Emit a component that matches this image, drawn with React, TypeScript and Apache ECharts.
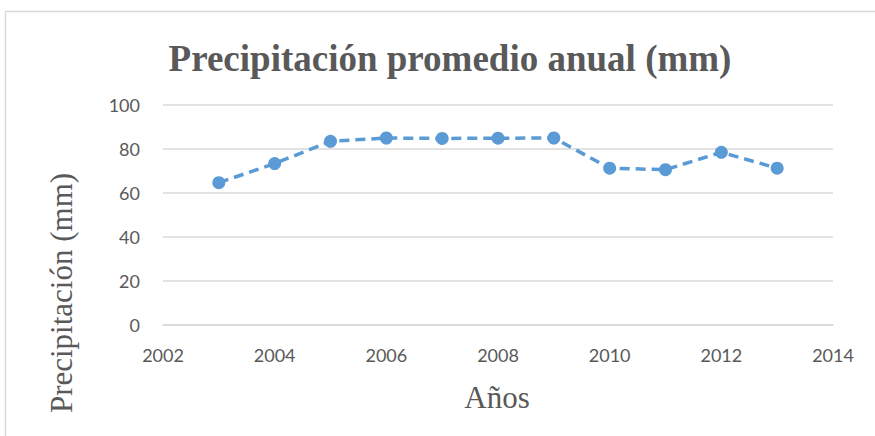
import React, { useEffect, useRef } from "react";
import * as echarts from "echarts";

const years = [2003, 2004, 2005, 2006, 2007, 2008, 2009, 2010, 2011, 2012, 2013];
const precip = [64.7, 73.4, 83.5, 85.0, 84.8, 84.9, 85.0, 71.3, 70.6, 78.5, 71.3];
const titleText = "Precipitación promedio anual (mm)";
const xName = "Años";
const yName = "Precipitación (mm)";

export default function App() {
  const ref = useRef<HTMLDivElement>(null);
  useEffect(() => {
    if (!ref.current) return;
    const chart = echarts.init(ref.current, null, { renderer: "svg" });
    const tickFont = { color: "#595959", fontSize: 18, fontFamily: "Lato, 'Open Sans', sans-serif" };
    chart.setOption({
      animation: false,
      backgroundColor: "#ffffff",
      grid: { left: 163, right: 42, top: 105, bottom: 111 },
      xAxis: {
        type: "value",
        min: 2002,
        max: 2014,
        interval: 2,
        axisLine: { show: true, lineStyle: { color: "#d9d9d9", width: 1.5 } },
        axisTick: { show: false },
        splitLine: { show: false },
        axisLabel: { ...tickFont, margin: 21, formatter: (v: number) => String(v) },
      },
      yAxis: {
        type: "value",
        min: 0,
        max: 100,
        interval: 20,
        axisLine: { show: false },
        axisTick: { show: false },
        splitLine: { show: true, lineStyle: { color: "#d9d9d9", width: 1.5 } },
        axisLabel: { ...tickFont, margin: 23 },
      },
      series: [
        {
          type: "line",
          data: years.map((y, i) => [y, precip[i]]),
          symbol: "circle",
          symbolSize: 13,
          itemStyle: { color: "#5b9bd5" },
          lineStyle: { color: "#5b9bd5", width: 3.5, type: [10, 6] },
        },
      ],
      graphic: [
        {
          type: "rect",
          shape: { x: 5.5, y: 11.5, width: 1000, height: 1000 },
          style: { fill: "none", stroke: "#d9d9d9", lineWidth: 1.5 },
          silent: true,
          z: -1,
        },
        {
          type: "text",
          x: 450,
          y: 58,
          style: {
            text: titleText,
            fill: "#595959",
            font: "bold 37px 'Liberation Serif', 'Times New Roman', serif",
            textAlign: "center",
            textVerticalAlign: "middle",
          },
        },
        {
          type: "text",
          x: 497,
          y: 397,
          style: {
            text: xName,
            fill: "#595959",
            font: "31px 'Liberation Serif', 'Times New Roman', serif",
            textAlign: "center",
            textVerticalAlign: "middle",
          },
        },
        {
          type: "text",
          x: 61,
          y: 293,
          rotation: Math.PI / 2,
          style: {
            text: yName,
            fill: "#595959",
            font: "31px 'Liberation Serif', 'Times New Roman', serif",
            textAlign: "center",
            textVerticalAlign: "middle",
          },
        },
      ],
    });
    return () => chart.dispose();
  }, []);
  return (
    <div
      ref={ref}
      style={{ position: "fixed", left: 0, top: 0, width: 875, height: 436 }}
    />
  );
}
